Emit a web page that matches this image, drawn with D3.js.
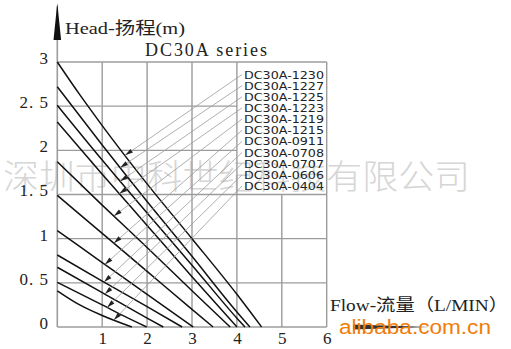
<!DOCTYPE html>
<html><head><meta charset="utf-8">
<script src="https://cdn.jsdelivr.net/npm/d3@7"></script>
<style>
html,body{margin:0;padding:0;background:#fff;}
svg{display:block;}
</style></head>
<body>
<svg id="chart" width="511" height="349"></svg>
<script>
// ---------- data ----------
const seriesNames = ["DC30A-1230","DC30A-1227","DC30A-1225","DC30A-1223","DC30A-1219","DC30A-1215",
                     "DC30A-0911","DC30A-0708","DC30A-0707","DC30A-0606","DC30A-0404"];
const flow1230 = [0, 0.5, 1, 2, 3, 4, 4.55];  const head1230 = [3.0, 2.63, 2.28, 1.62, 1.0, 0.37, 0];
const flow1227 = [0, 1, 2, 3, 4, 4.29];       const head1227 = [2.72, 2.06, 1.42, 0.80, 0.17, 0];
const flow1225 = [0, 1, 2, 3, 4, 4.18];       const head1225 = [2.51, 1.89, 1.29, 0.70, 0.10, 0];
const flow1223 = [0, 1, 2, 3, 4.0];           const head1223 = [2.32, 1.73, 1.15, 0.57, 0];
const flow1219 = [0, 1, 2, 3, 3.85];          const head1219 = [1.87, 1.38, 0.90, 0.41, 0];
const flow1215 = [0, 1, 2, 3, 3.47];          const head1215 = [1.49, 1.06, 0.63, 0.20, 0];
const flow0911 = [0, 1, 2, 3.03];             const head0911 = [1.09, 0.73, 0.37, 0];
const flow0708 = [0, 1, 2, 2.78];             const head0708 = [0.815, 0.52, 0.23, 0];
const flow0707 = [0, 1, 2, 2.36];             const head0707 = [0.676, 0.39, 0.10, 0];
const flow0606 = [0, 1, 1.5, 1.99];           const head0606 = [0.506, 0.25, 0.12, 0];
const flow0404 = [0, 0.5, 1, 1.66];           const head0404 = [0.41, 0.25, 0.13, 0];
const flows = [flow1230, flow1227, flow1225, flow1223, flow1219, flow1215, flow0911, flow0708, flow0707, flow0606, flow0404];
const heads = [head1230, head1227, head1225, head1223, head1219, head1215, head0911, head0708, head0707, head0606, head0404];
// flow value where each series' leader arrow touches its curve
const arrowFlow = [1.51, 1.40, 1.40, 1.38, 1.26, 1.26, 1.06, 1.04, 1.06, 1.11, 1.26];

const xTicks = [1, 2, 3, 4, 5, 6];
const xTickLabels = ["1","2","3","4","5","6"];
const yTicks = [0, 0.5, 1, 1.5, 2, 2.5, 3];
const yTickLabels = ["0","0. 5","1","1. 5","2","2. 5","3"];

const yTitle = "Head-扬程(m)";
const xTitle = "Flow-流量（L/MIN）";
const chartTitle = "DC30A series";
const watermark1 = "深圳市中科世纪科技有限公司";
const watermark2 = "alibaba.com.cn";

// ---------- layout ----------
const svg = d3.select("#chart");
const x = d3.scaleLinear().domain([0, 6]).range([57.3, 326.7]);
const y = d3.scaleLinear().domain([0, 3]).range([327, 62]);
const gridColor = "#9c9c9c";
const serif = "'Liberation Serif','DejaVu Serif','Noto Sans CJK SC',serif";

// watermark (behind)
svg.append("text").attr("x", 3).attr("y", 189)
  .attr("font-family", "'Noto Sans CJK SC'").attr("font-weight", 300).attr("font-size", 34)
  .attr("fill", "#d6d6d6").attr("textLength", 467).attr("lengthAdjust", "spacingAndGlyphs")
  .text(watermark1);

// grid
const g = svg.append("g");
// horizontal lines
yTicks.filter(v => v > 0).forEach(v => {
  const inLegend = v > 1.5 && v < 3;
  g.append("line").attr("x1", x(0)).attr("x2", inLegend ? x(4) : x(6))
    .attr("y1", y(v)).attr("y2", y(v)).attr("stroke", gridColor).attr("stroke-width", 1.4);
});
// vertical lines
xTicks.forEach(v => {
  const top = (v === 5) ? y(1.5) : y(3);
  g.append("line").attr("x1", x(v)).attr("x2", x(v)).attr("y1", y(0)).attr("y2", top)
    .attr("stroke", gridColor).attr("stroke-width", 1.4);
});
// x axis line + arrow
g.append("line").attr("x1", x(0)).attr("x2", x(6)).attr("y1", y(0)).attr("y2", y(0))
  .attr("stroke", gridColor).attr("stroke-width", 1.6);
svg.append("path").attr("d", `M353,${y(0)-2.5} L430,${y(0)} L353,${y(0)+2.5} Z`).attr("fill", "#333");
// y axis line + arrow
g.append("line").attr("x1", x(0)).attr("x2", x(0)).attr("y1", y(0)).attr("y2", 6)
  .attr("stroke", gridColor).attr("stroke-width", 1.6);
svg.append("path").attr("d", `M${x(0)},3 L${x(0)+3.8},40 L${x(0)-3.8},40 Z`).attr("fill", "#111");

// curves
const line = d3.line().x(d => x(d[0])).y(d => y(d[1])).curve(d3.curveMonotoneX);
const curveData = flows.map((f, i) => f.map((v, j) => [v, heads[i][j]]));
svg.append("g").selectAll("path").data(curveData).join("path")
  .attr("d", line).attr("fill", "none").attr("stroke", "#111").attr("stroke-width", 1.5);

// legend labels + leader lines
const labelX = 244, labelTop = 74.5, labelStep = 11.15;
function headAt(i, fx) {
  const f = flows[i], h = heads[i];
  for (let k = 0; k < f.length - 1; k++) {
    if (fx >= f[k] && fx <= f[k+1]) return h[k] + (h[k+1]-h[k]) * (fx - f[k]) / (f[k+1]-f[k]);
  }
  return 0;
}
const lg = svg.append("g");
seriesNames.forEach((name, i) => {
  const ly = labelTop + i * labelStep;
  const tx = x(arrowFlow[i]), ty = y(headAt(i, arrowFlow[i]));
  const sx = labelX - 2, sy = ly;
  lg.append("line").attr("x1", sx).attr("y1", sy).attr("x2", tx).attr("y2", ty)
    .attr("stroke", "#9a9a9a").attr("stroke-width", 0.8);
  // arrow head at curve
  const ang = Math.atan2(sy - ty, sx - tx);
  const L = 8, W = 2.2;
  const bx = tx + L * Math.cos(ang), by = ty + L * Math.sin(ang);
  const px = -Math.sin(ang) * W, py = Math.cos(ang) * W;
  lg.append("path").attr("d", `M${tx},${ty} L${bx+px},${by+py} L${bx-px},${by-py} Z`).attr("fill", "#222");
  lg.append("text").attr("x", labelX).attr("y", ly + 4)
    .attr("font-family", "'DejaVu Sans',sans-serif").attr("font-size", 11).attr("fill", "#222")
    .attr("textLength", 80).attr("lengthAdjust", "spacingAndGlyphs").text(name);
});

// axis tick labels
const yAxis = d3.axisLeft(y).tickValues(yTicks).tickSize(0).tickPadding(0)
  .tickFormat((d, i) => yTickLabels[i]);
const ya = svg.append("g").attr("transform", "translate(49,-4)").call(yAxis);
ya.select(".domain").remove();
ya.selectAll("text").attr("font-family", serif).attr("font-size", 17).attr("fill", "#222")
  .attr("letter-spacing", 1);

const xAxis = d3.axisBottom(x).tickValues(xTicks).tickSize(0).tickPadding(0)
  .tickFormat((d, i) => xTickLabels[i]);
const xa = svg.append("g").attr("transform", `translate(0,${y(0)+5})`).call(xAxis);
xa.select(".domain").remove();
xa.selectAll("text").attr("font-family", serif).attr("font-size", 17).attr("fill", "#222");

// titles
svg.append("text").attr("x", 65).attr("y", 34).attr("font-family", serif).attr("font-size", 17)
  .attr("fill", "#222").attr("textLength", 120).attr("lengthAdjust", "spacingAndGlyphs").text(yTitle);
svg.append("text").attr("x", 145).attr("y", 56).attr("font-family", serif).attr("font-size", 18)
  .attr("fill", "#222").attr("textLength", 122).attr("lengthAdjust", "spacing").text(chartTitle);
svg.append("text").attr("x", 330).attr("y", 311).attr("font-family", serif).attr("font-size", 17)
  .attr("fill", "#222").attr("textLength", 178).attr("lengthAdjust", "spacingAndGlyphs").text(xTitle);

// alibaba watermark
svg.append("text").attr("x", 339).attr("y", 334)
  .attr("font-family", "'Liberation Sans',Arial,sans-serif").attr("font-size", 20)
  .attr("fill", "#f07d0a").attr("textLength", 152).attr("lengthAdjust", "spacingAndGlyphs").text(watermark2);
</script>
</body></html>
